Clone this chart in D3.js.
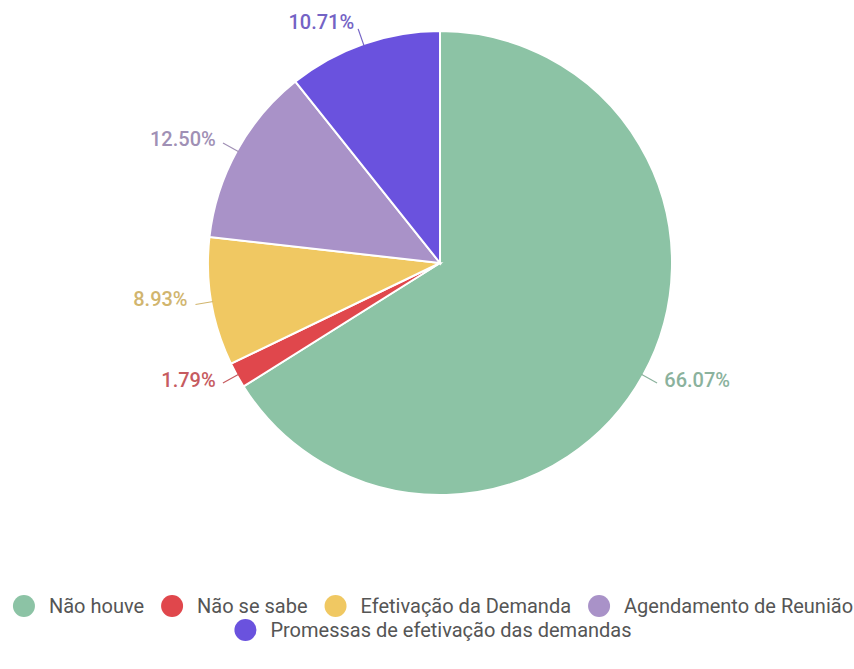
<!DOCTYPE html>
<html lang="pt">
<head>
<meta charset="utf-8">
<script src="https://d3js.org/d3.v7.min.js"></script>
<style>
  body { margin: 0; background: #ffffff; font-family: Roboto, "Noto Sans", sans-serif; }
  svg { display: block; }
</style>
</head>
<body>
<script>
var categories = ["Não houve", "Não se sabe", "Efetivação da Demanda", "Agendamento de Reunião", "Promessas de efetivação das demandas"];
var values = [66.07, 1.79, 8.93, 12.50, 10.71];
var colors = ["#8cc3a5", "#e0474c", "#f0c862", "#a992c8", "#6a52de"];
var legendRows = [[0, 1, 2, 3], [4]];

var width = 854, height = 669;
var cx = 440, cy = 263, radius = 232;

var svg = d3.select("body").append("svg")
    .attr("width", width)
    .attr("height", height);

var pie = d3.pie().sort(null).value(function(d) { return d; });
var arcs = pie(values);
var arc = d3.arc().innerRadius(0).outerRadius(radius);

var g = svg.append("g").attr("transform", "translate(" + cx + "," + cy + ")");

g.selectAll("path.slice")
    .data(arcs)
    .enter()
    .append("path")
    .attr("class", "slice")
    .attr("d", arc)
    .style("fill", function(d, i) { return colors[i]; })
    .style("stroke", "#fff")
    .style("stroke-width", 2);

function pt(a, r) { return [r * Math.sin(a), -r * Math.cos(a)]; }

// leader lines and labels
arcs.forEach(function(d, i) {
    var mid = (d.startAngle + d.endAngle) / 2;
    var p0 = pt(mid, radius - 2), p1 = pt(mid, radius + 16), p2 = pt(mid, radius + 22);
    var right = Math.sin(mid) > 0;
    var muted = d3.interpolateRgb(colors[i], "#8a8a8a")(0.3);
    g.append("line")
        .attr("x1", p0[0]).attr("y1", p0[1])
        .attr("x2", p1[0]).attr("y2", p1[1])
        .style("stroke", muted)
        .style("stroke-width", 1.2);
    g.append("text")
        .attr("x", p2[0] + (right ? 2 : -2))
        .attr("y", p2[1] - (Math.cos(mid) < 0 ? 5 : 0))
        .attr("dy", "0.3em")
        .attr("text-anchor", right ? "start" : "end")
        .style("font-size", "20px")
        .style("font-weight", "500")
        .style("fill", muted)
        .text(values[i].toFixed(2) + "%");
});

// legend
var rowY = [606, 630];
var r = 11, gapText = 14, gapItem = 17;
legendRows.forEach(function(row, ri) {
    var lg = svg.append("g");
    var x = 0;
    row.forEach(function(k) {
        var item = lg.append("g").attr("transform", "translate(" + x + ",0)");
        item.append("circle")
            .attr("cx", r).attr("cy", 0).attr("r", r)
            .style("fill", colors[k]);
        var t = item.append("text")
            .attr("x", 2 * r + gapText)
            .attr("dy", "0.35em")
            .style("font-size", "20px")
            .style("fill", "#555")
            .text(categories[k]);
        x += 2 * r + gapText + t.node().getComputedTextLength() + gapItem;
    });
    var total = x - gapItem;
    lg.attr("transform", "translate(" + (433 - total / 2) + "," + rowY[ri] + ")");
});
</script>
</body>
</html>
